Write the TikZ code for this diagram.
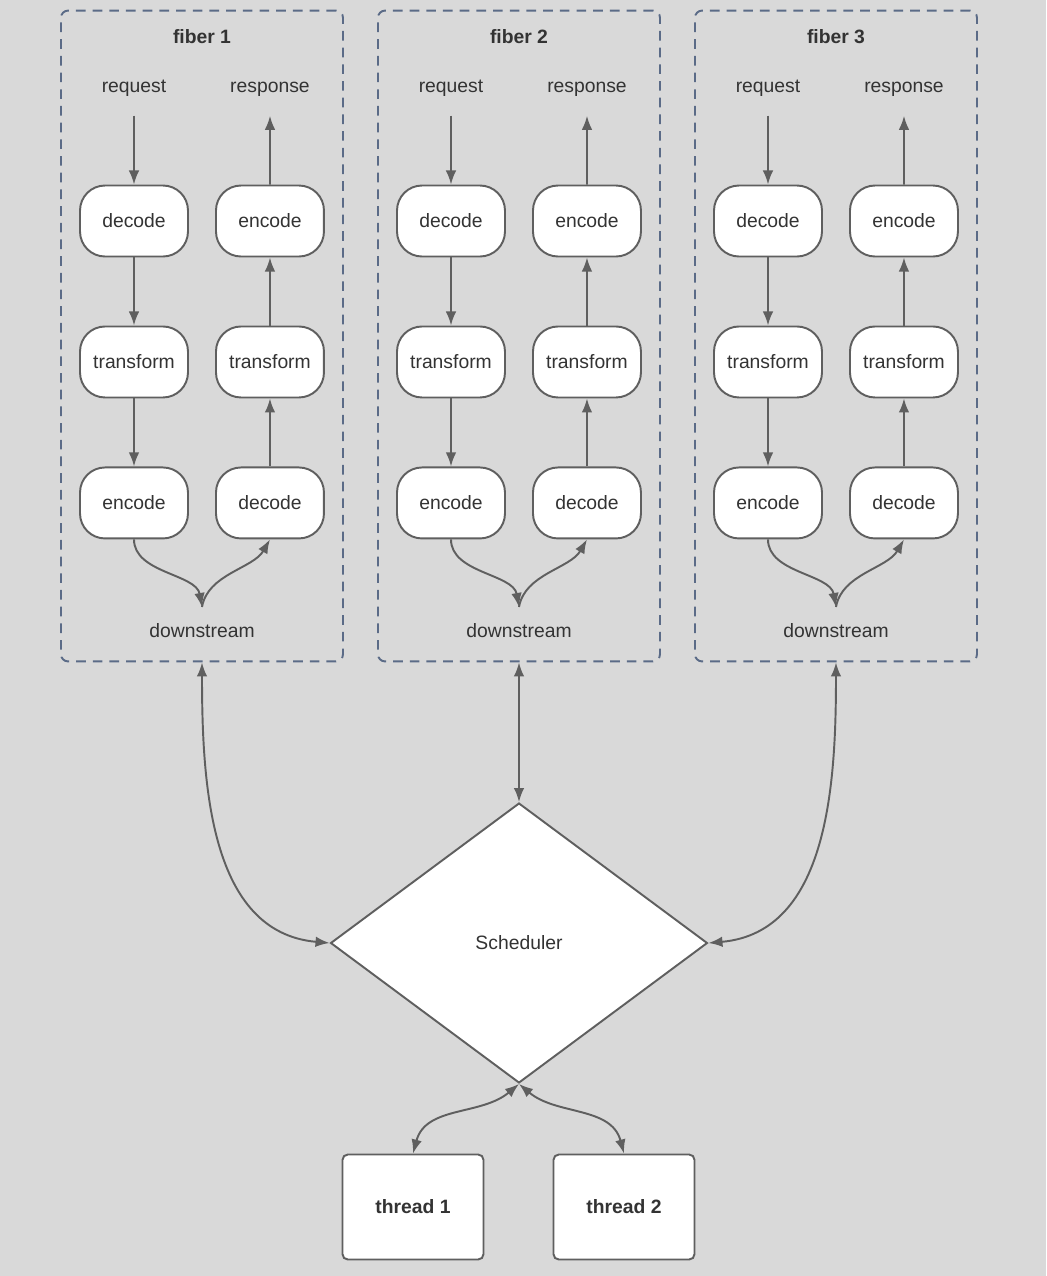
\documentclass[tikz,border=0pt]{standalone}
\usepackage{fontspec}
\setmainfont{Liberation Sans}
\usetikzlibrary{shapes,arrows.meta}

\definecolor{bggray}{HTML}{D9D9D9}
\definecolor{linegray}{HTML}{5F5F5F}
\definecolor{textgray}{HTML}{333333}
\definecolor{fiberblue}{HTML}{5B6B87}

\begin{document}
\begin{tikzpicture}[>={Latex[length=8pt,width=6pt]},node distance=2.82cm,auto,x=0.02cm,y=-0.02cm,font=\fontsize{11}{13}\selectfont,text=textgray]
        % Define block styles
        \tikzstyle{block} = [rectangle, draw=linegray, line width=1.1pt, fill=white, rounded corners=0.5cm, text centered, minimum width=2.16cm, minimum height=1.42cm]
        \tikzstyle{fiberbox} = [rectangle, draw=fiberblue, line width=1.1pt, dash pattern=on 5.5pt off 4pt, rounded corners=4pt, inner sep=0pt, minimum width=5.64cm, minimum height=13.02cm]
        \tikzstyle{thr} = [rectangle, draw=linegray, line width=1.1pt, fill=white, rounded corners=3pt, minimum width=2.82cm, minimum height=2.1cm, font=\fontsize{11}{13}\selectfont\bfseries]
        \tikzstyle{decision} = [diamond, draw=linegray, line width=1.1pt, fill=white, inner sep=0pt, minimum width=7.54cm, minimum height=5.6cm]
        \tikzstyle{ttl} = [font=\fontsize{11}{13}\selectfont\bfseries]
        \tikzstyle{lbl} = [text height=8pt, text depth=2.5pt]
        \tikzstyle{line} = [draw, linegray, line width=1.1pt, ->]
        \tikzstyle{dline} = [draw, linegray, line width=1.1pt, <->]

        % Background
        \fill [bggray] (0,0) rectangle (1046,1276);
        \useasboundingbox (0,0) rectangle (1046,1276);

        % Fiber 1
        \node [fiberbox] (fiber_a) at (202,336) {};
        \node [ttl] (title_a) at (202,37) {fiber 1};
        \node [lbl] (req_a) at (134,88) {request};
        \node [lbl] (resp_a) at (270,88) {response};
        \node [block] (dec_a1) at (134,221) {decode};
        \node [block, below of=dec_a1] (tr_a1) {transform};
        \node [block, below of=tr_a1] (enc_a1) {encode};
        \node [block, right of=dec_a1, node distance=2.72cm] (enc_a2) {encode};
        \node [block, below of=enc_a2] (tr_a2) {transform};
        \node [block, below of=tr_a2] (dec_a2) {decode};
        \node [lbl] (down_a) at (202,633) {downstream};
        \coordinate (join_a) at (202,607);

        % Fiber 2
        \node [fiberbox] (fiber_b) at (519,336) {};
        \node [ttl] (title_b) at (519,37) {fiber 2};
        \node [lbl] (req_b) at (451,88) {request};
        \node [lbl] (resp_b) at (587,88) {response};
        \node [block] (dec_b1) at (451,221) {decode};
        \node [block, below of=dec_b1] (tr_b1) {transform};
        \node [block, below of=tr_b1] (enc_b1) {encode};
        \node [block, right of=dec_b1, node distance=2.72cm] (enc_b2) {encode};
        \node [block, below of=enc_b2] (tr_b2) {transform};
        \node [block, below of=tr_b2] (dec_b2) {decode};
        \node [lbl] (down_b) at (519,633) {downstream};
        \coordinate (join_b) at (519,607);

        % Fiber 3
        \node [fiberbox] (fiber_c) at (836,336) {};
        \node [ttl] (title_c) at (836,37) {fiber 3};
        \node [lbl] (req_c) at (768,88) {request};
        \node [lbl] (resp_c) at (904,88) {response};
        \node [block] (dec_c1) at (768,221) {decode};
        \node [block, below of=dec_c1] (tr_c1) {transform};
        \node [block, below of=tr_c1] (enc_c1) {encode};
        \node [block, right of=dec_c1, node distance=2.72cm] (enc_c2) {encode};
        \node [block, below of=enc_c2] (tr_c2) {transform};
        \node [block, below of=tr_c2] (dec_c2) {decode};
        \node [lbl] (down_c) at (836,633) {downstream};
        \coordinate (join_c) at (836,607);

        % Scheduler and threads
        \node [decision] (sched) at (519,943) {Scheduler};
        \node [thr] (thread_1) at (413,1207) {thread 1};
        \node [thr] (thread_2) at (624,1207) {thread 2};

        % Arrows
        \path [line] ([yshift=-7pt]req_a.south) -- (dec_a1);
        \path [line] (dec_a1) -- (tr_a1);
        \path [line] (tr_a1) -- (enc_a1);
        \path [line] (dec_a2) -- (tr_a2);
        \path [line] (tr_a2) -- (enc_a2);
        \path [line] (enc_a2) -- ([yshift=-7pt]resp_a.south);
        \path [line] (enc_a1.south) to[out=-90,in=100,looseness=0.9] (join_a);
        \path [line] (join_a) to[out=80,in=-120,looseness=0.9] (dec_a2.south);

        \path [line] ([yshift=-7pt]req_b.south) -- (dec_b1);
        \path [line] (dec_b1) -- (tr_b1);
        \path [line] (tr_b1) -- (enc_b1);
        \path [line] (dec_b2) -- (tr_b2);
        \path [line] (tr_b2) -- (enc_b2);
        \path [line] (enc_b2) -- ([yshift=-7pt]resp_b.south);
        \path [line] (enc_b1.south) to[out=-90,in=100,looseness=0.9] (join_b);
        \path [line] (join_b) to[out=80,in=-120,looseness=0.9] (dec_b2.south);

        \path [line] ([yshift=-7pt]req_c.south) -- (dec_c1);
        \path [line] (dec_c1) -- (tr_c1);
        \path [line] (tr_c1) -- (enc_c1);
        \path [line] (dec_c2) -- (tr_c2);
        \path [line] (tr_c2) -- (enc_c2);
        \path [line] (enc_c2) -- ([yshift=-7pt]resp_c.south);
        \path [line] (enc_c1.south) to[out=-90,in=100,looseness=0.9] (join_c);
        \path [line] (join_c) to[out=80,in=-120,looseness=0.9] (dec_c2.south);

        \path [dline] (fiber_a.south) to[out=-90,in=175] (sched.west);
        \path [dline] (fiber_b.south) -- (sched.north);
        \path [dline] (fiber_c.south) to[out=-90,in=5] (sched.east);
        \path [dline] (sched.south) to[out=-140,in=75] (thread_1.north);
        \path [dline] (sched.south) to[out=-40,in=105] (thread_2.north);

    \end{tikzpicture}
\end{document}
